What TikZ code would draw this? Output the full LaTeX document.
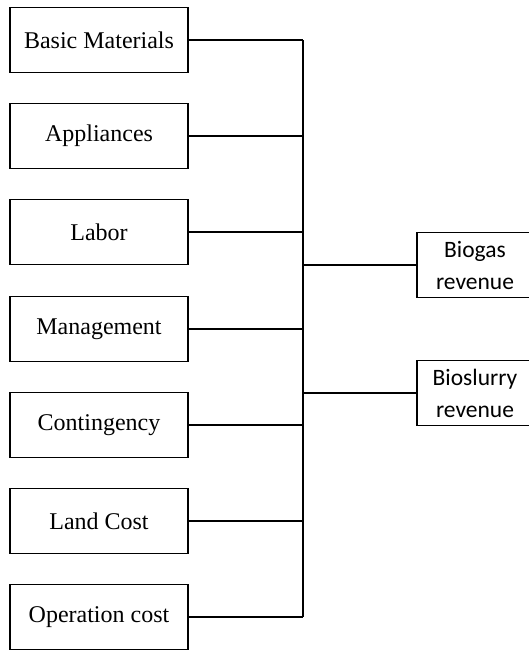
\documentclass[tikz,border=0pt]{standalone}
\usepackage{fontspec}
\setmainfont{Liberation Serif}
\newfontfamily\revfont{Carlito}
\usetikzlibrary{positioning, calc}

\begin{document}
\begin{tikzpicture}[
    x=1pt, y=-1pt,
    font=\fontsize{24}{28}\selectfont,
    cost/.style={draw, line width=1.8pt, minimum width=178pt, minimum height=65pt, inner sep=0pt},
    revenue/.style={draw, line width=1.8pt, minimum width=116pt, minimum height=65pt, inner sep=0pt, align=center,
        font=\revfont\fontsize{23.5}{32}\selectfont},
    link/.style={line width=1.1pt},
    thicklink/.style={line width=1.6pt}
]
\useasboundingbox (0,0) rectangle (529,651);

\node[cost] (basic) at (99,40) {Basic Materials};
\node[cost] (appl) at (99,136) {Appliances};
\node[cost] (labor) at (99,232) {Labor};
\node[cost] (mgmt) at (99,329) {Management};
\node[cost] (cont) at (99,425) {Contingency};
\node[cost] (land) at (99,521) {Land Cost};
\node[cost] (oper) at (99,617) {Operation cost};

\node[revenue] (biogas) at (475,265) {Biogas\\revenue};
\node[revenue] (slurry) at (475,393) {Bioslurry\\revenue};

\coordinate (trunktop) at (303,40);
\coordinate (trunkbot) at (303,617);

\draw[thicklink] (trunktop) -- (trunkbot);

\draw[thicklink] (basic.east) -- (basic.east -| trunktop);
\draw[thicklink] (appl.east) -- (appl.east -| trunktop);
\draw[link] (labor.east) -- (labor.east -| trunktop);
\draw[thicklink] (mgmt.east) -- (mgmt.east -| trunktop);
\draw[link] (cont.east) -- (cont.east -| trunktop);
\draw[link] (land.east) -- (land.east -| trunktop);
\draw[link] (oper.east) -- (oper.east -| trunktop);

\draw[link] (biogas.west -| trunktop) -- (biogas.west);
\draw[thicklink] (slurry.west -| trunktop) -- (slurry.west);

\end{tikzpicture}
\end{document}
